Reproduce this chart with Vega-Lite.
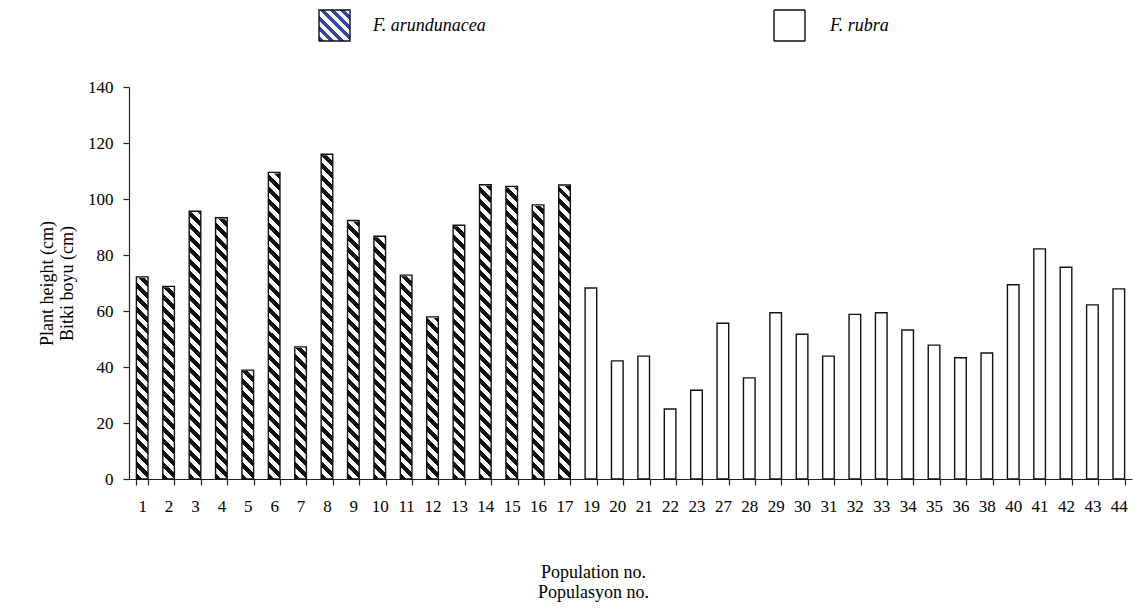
{
  "$schema": "https://vega.github.io/schema/vega-lite/v6.json",
  "autosize": {"type": "none"},
  "padding": {"left": 129, "top": 87, "right": 3, "bottom": 130},
  "width": 1003,
  "height": 392,
  "background": "white",
  "config": {
    "view": {"stroke": null},
    "font": "Liberation Serif",
    "legend": {"labelFont": "Liberation Serif", "labelFontStyle": "italic"},
    "axis": {
      "labelFont": "Liberation Serif",
      "titleFont": "Liberation Serif",
      "labelColor": "#000",
      "titleColor": "#000",
      "domainColor": "#222",
      "tickColor": "#222",
      "grid": false,
      "titleFontWeight": "normal"
    }
  },
  "data": {
    "values": [
      {"species": "F. arundunacea", "pop": "1", "value": 72.2},
      {"species": "F. arundunacea", "pop": "2", "value": 68.8},
      {"species": "F. arundunacea", "pop": "3", "value": 95.6},
      {"species": "F. arundunacea", "pop": "4", "value": 93.3},
      {"species": "F. arundunacea", "pop": "5", "value": 38.9},
      {"species": "F. arundunacea", "pop": "6", "value": 109.5},
      {"species": "F. arundunacea", "pop": "7", "value": 47.2},
      {"species": "F. arundunacea", "pop": "8", "value": 116.0},
      {"species": "F. arundunacea", "pop": "9", "value": 92.3},
      {"species": "F. arundunacea", "pop": "10", "value": 86.7},
      {"species": "F. arundunacea", "pop": "11", "value": 72.8},
      {"species": "F. arundunacea", "pop": "12", "value": 57.9},
      {"species": "F. arundunacea", "pop": "13", "value": 90.6},
      {"species": "F. arundunacea", "pop": "14", "value": 105.1},
      {"species": "F. arundunacea", "pop": "15", "value": 104.5},
      {"species": "F. arundunacea", "pop": "16", "value": 97.9},
      {"species": "F. arundunacea", "pop": "17", "value": 105.0},
      {"species": "F. rubra", "pop": "19", "value": 68.2},
      {"species": "F. rubra", "pop": "20", "value": 42.2},
      {"species": "F. rubra", "pop": "21", "value": 43.9},
      {"species": "F. rubra", "pop": "22", "value": 25.0},
      {"species": "F. rubra", "pop": "23", "value": 31.7},
      {"species": "F. rubra", "pop": "27", "value": 55.6},
      {"species": "F. rubra", "pop": "28", "value": 36.1},
      {"species": "F. rubra", "pop": "29", "value": 59.4},
      {"species": "F. rubra", "pop": "30", "value": 51.7},
      {"species": "F. rubra", "pop": "31", "value": 43.9},
      {"species": "F. rubra", "pop": "32", "value": 58.8},
      {"species": "F. rubra", "pop": "33", "value": 59.4},
      {"species": "F. rubra", "pop": "34", "value": 53.2},
      {"species": "F. rubra", "pop": "35", "value": 47.8},
      {"species": "F. rubra", "pop": "36", "value": 43.3},
      {"species": "F. rubra", "pop": "38", "value": 45.0},
      {"species": "F. rubra", "pop": "40", "value": 69.4},
      {"species": "F. rubra", "pop": "41", "value": 82.2},
      {"species": "F. rubra", "pop": "42", "value": 75.6},
      {"species": "F. rubra", "pop": "43", "value": 62.2},
      {"species": "F. rubra", "pop": "44", "value": 67.9}
    ]
  },
  "encoding": {
    "x": {
      "field": "pop",
      "type": "nominal",
      "scale": {
        "domain": ["1","2","3","4","5","6","7","8","9","10","11","12","13","14","15","16","17","19","20","21","22","23","27","28","29","30","31","32","33","34","35","36","38","40","41","42","43","44"],
        "paddingInner": 0.56,
        "paddingOuter": 0.28
      },
      "axis": {
        "title": ["Population no.", "Populasyon no."],
        "titleFont": "Liberation Serif",
        "titleFontSize": 18,
        "titleX": 464,
        "titleY": 98,
        "titleBaseline": "alphabetic",
        "titleAlign": "center",
        "titleLineHeight": 20,
        "labelFont": "Liberation Serif",
        "labelAngle": 0,
        "labelFontSize": 17,
        "labelPadding": 13,
        "tickSize": 6,
        "tickBand": "extent",
        "domainWidth": 1.2,
        "tickWidth": 1.2
      }
    },
    "y": {
      "field": "value",
      "type": "quantitative",
      "scale": {"domain": [0, 140], "nice": false},
      "axis": {
        "values": [0, 20, 40, 60, 80, 100, 120, 140],
        "title": ["Plant height (cm)", "Bitki boyu (cm)"],
        "titleFont": "Liberation Serif",
        "titleFontSize": 18,
        "titleAngle": 270,
        "titleX": -77,
        "titleY": 196,
        "titleBaseline": "alphabetic",
        "titleAlign": "center",
        "titleLineHeight": 20,
        "labelFont": "Liberation Serif",
        "labelFontSize": 17,
        "labelPadding": 10,
        "tickSize": 6,
        "domainWidth": 1.2,
        "tickWidth": 1.2
      }
    }
  },
  "layer": [
    {
      "transform": [{"filter": "datum.species === 'F. arundunacea'"}],
      "mark": {
        "type": "bar",
        "strokeWidth": 0,
        "fill": {
          "gradient": "linear",
          "x1": 0, "y1": 1, "x2": 0.03072, "y2": -0.03736,
          "stops": [
            {"offset": 0, "color": "#111"}, {"offset": 0.01471, "color": "#111"}, {"offset": 0.01471, "color": "#fff"}, {"offset": 0.02941, "color": "#fff"},
            {"offset": 0.02941, "color": "#111"}, {"offset": 0.04412, "color": "#111"}, {"offset": 0.04412, "color": "#fff"}, {"offset": 0.05882, "color": "#fff"},
            {"offset": 0.05882, "color": "#111"}, {"offset": 0.07353, "color": "#111"}, {"offset": 0.07353, "color": "#fff"}, {"offset": 0.08824, "color": "#fff"},
            {"offset": 0.08824, "color": "#111"}, {"offset": 0.10294, "color": "#111"}, {"offset": 0.10294, "color": "#fff"}, {"offset": 0.11765, "color": "#fff"},
            {"offset": 0.11765, "color": "#111"}, {"offset": 0.13235, "color": "#111"}, {"offset": 0.13235, "color": "#fff"}, {"offset": 0.14706, "color": "#fff"},
            {"offset": 0.14706, "color": "#111"}, {"offset": 0.16176, "color": "#111"}, {"offset": 0.16176, "color": "#fff"}, {"offset": 0.17647, "color": "#fff"},
            {"offset": 0.17647, "color": "#111"}, {"offset": 0.19118, "color": "#111"}, {"offset": 0.19118, "color": "#fff"}, {"offset": 0.20588, "color": "#fff"},
            {"offset": 0.20588, "color": "#111"}, {"offset": 0.22059, "color": "#111"}, {"offset": 0.22059, "color": "#fff"}, {"offset": 0.23529, "color": "#fff"},
            {"offset": 0.23529, "color": "#111"}, {"offset": 0.25, "color": "#111"}, {"offset": 0.25, "color": "#fff"}, {"offset": 0.26471, "color": "#fff"},
            {"offset": 0.26471, "color": "#111"}, {"offset": 0.27941, "color": "#111"}, {"offset": 0.27941, "color": "#fff"}, {"offset": 0.29412, "color": "#fff"},
            {"offset": 0.29412, "color": "#111"}, {"offset": 0.30882, "color": "#111"}, {"offset": 0.30882, "color": "#fff"}, {"offset": 0.32353, "color": "#fff"},
            {"offset": 0.32353, "color": "#111"}, {"offset": 0.33824, "color": "#111"}, {"offset": 0.33824, "color": "#fff"}, {"offset": 0.35294, "color": "#fff"},
            {"offset": 0.35294, "color": "#111"}, {"offset": 0.36765, "color": "#111"}, {"offset": 0.36765, "color": "#fff"}, {"offset": 0.38235, "color": "#fff"},
            {"offset": 0.38235, "color": "#111"}, {"offset": 0.39706, "color": "#111"}, {"offset": 0.39706, "color": "#fff"}, {"offset": 0.41176, "color": "#fff"},
            {"offset": 0.41176, "color": "#111"}, {"offset": 0.42647, "color": "#111"}, {"offset": 0.42647, "color": "#fff"}, {"offset": 0.44118, "color": "#fff"},
            {"offset": 0.44118, "color": "#111"}, {"offset": 0.45588, "color": "#111"}, {"offset": 0.45588, "color": "#fff"}, {"offset": 0.47059, "color": "#fff"},
            {"offset": 0.47059, "color": "#111"}, {"offset": 0.48529, "color": "#111"}, {"offset": 0.48529, "color": "#fff"}, {"offset": 0.5, "color": "#fff"},
            {"offset": 0.5, "color": "#111"}, {"offset": 0.51471, "color": "#111"}, {"offset": 0.51471, "color": "#fff"}, {"offset": 0.52941, "color": "#fff"},
            {"offset": 0.52941, "color": "#111"}, {"offset": 0.54412, "color": "#111"}, {"offset": 0.54412, "color": "#fff"}, {"offset": 0.55882, "color": "#fff"},
            {"offset": 0.55882, "color": "#111"}, {"offset": 0.57353, "color": "#111"}, {"offset": 0.57353, "color": "#fff"}, {"offset": 0.58824, "color": "#fff"},
            {"offset": 0.58824, "color": "#111"}, {"offset": 0.60294, "color": "#111"}, {"offset": 0.60294, "color": "#fff"}, {"offset": 0.61765, "color": "#fff"},
            {"offset": 0.61765, "color": "#111"}, {"offset": 0.63235, "color": "#111"}, {"offset": 0.63235, "color": "#fff"}, {"offset": 0.64706, "color": "#fff"},
            {"offset": 0.64706, "color": "#111"}, {"offset": 0.66176, "color": "#111"}, {"offset": 0.66176, "color": "#fff"}, {"offset": 0.67647, "color": "#fff"},
            {"offset": 0.67647, "color": "#111"}, {"offset": 0.69118, "color": "#111"}, {"offset": 0.69118, "color": "#fff"}, {"offset": 0.70588, "color": "#fff"},
            {"offset": 0.70588, "color": "#111"}, {"offset": 0.72059, "color": "#111"}, {"offset": 0.72059, "color": "#fff"}, {"offset": 0.73529, "color": "#fff"},
            {"offset": 0.73529, "color": "#111"}, {"offset": 0.75, "color": "#111"}, {"offset": 0.75, "color": "#fff"}, {"offset": 0.76471, "color": "#fff"},
            {"offset": 0.76471, "color": "#111"}, {"offset": 0.77941, "color": "#111"}, {"offset": 0.77941, "color": "#fff"}, {"offset": 0.79412, "color": "#fff"},
            {"offset": 0.79412, "color": "#111"}, {"offset": 0.80882, "color": "#111"}, {"offset": 0.80882, "color": "#fff"}, {"offset": 0.82353, "color": "#fff"},
            {"offset": 0.82353, "color": "#111"}, {"offset": 0.83824, "color": "#111"}, {"offset": 0.83824, "color": "#fff"}, {"offset": 0.85294, "color": "#fff"},
            {"offset": 0.85294, "color": "#111"}, {"offset": 0.86765, "color": "#111"}, {"offset": 0.86765, "color": "#fff"}, {"offset": 0.88235, "color": "#fff"},
            {"offset": 0.88235, "color": "#111"}, {"offset": 0.89706, "color": "#111"}, {"offset": 0.89706, "color": "#fff"}, {"offset": 0.91176, "color": "#fff"},
            {"offset": 0.91176, "color": "#111"}, {"offset": 0.92647, "color": "#111"}, {"offset": 0.92647, "color": "#fff"}, {"offset": 0.94118, "color": "#fff"},
            {"offset": 0.94118, "color": "#111"}, {"offset": 0.95588, "color": "#111"}, {"offset": 0.95588, "color": "#fff"}, {"offset": 0.97059, "color": "#fff"},
            {"offset": 0.97059, "color": "#111"}, {"offset": 0.98529, "color": "#111"}, {"offset": 0.98529, "color": "#fff"}, {"offset": 1, "color": "#fff"}
          ]
        }
      },
      "encoding": {
        "y": {"datum": 140, "type": "quantitative"},
        "y2": {"datum": 0}
      }
    },
    {
      "transform": [{"filter": "datum.species === 'F. arundunacea'"}],
      "mark": {"type": "bar", "fill": "white", "stroke": "white", "strokeWidth": 2},
      "encoding": {
        "y2": {"datum": 140}
      }
    },
    {
      "transform": [{"filter": "datum.species === 'F. arundunacea'"}],
      "mark": {
        "type": "bar",
        "strokeWidth": 1.4,
        "fill": {
          "gradient": "linear",
          "x1": 0, "y1": 1, "x2": 1, "y2": 0,
          "stops": [
            {"offset": 0, "color": "#3347a8"}, {"offset": 0.08333, "color": "#3347a8"}, {"offset": 0.08333, "color": "#fff"}, {"offset": 0.16667, "color": "#fff"},
            {"offset": 0.16667, "color": "#3347a8"}, {"offset": 0.25, "color": "#3347a8"}, {"offset": 0.25, "color": "#fff"}, {"offset": 0.33333, "color": "#fff"},
            {"offset": 0.33333, "color": "#3347a8"}, {"offset": 0.41667, "color": "#3347a8"}, {"offset": 0.41667, "color": "#fff"}, {"offset": 0.5, "color": "#fff"},
            {"offset": 0.5, "color": "#3347a8"}, {"offset": 0.58333, "color": "#3347a8"}, {"offset": 0.58333, "color": "#fff"}, {"offset": 0.66667, "color": "#fff"},
            {"offset": 0.66667, "color": "#3347a8"}, {"offset": 0.75, "color": "#3347a8"}, {"offset": 0.75, "color": "#fff"}, {"offset": 0.83333, "color": "#fff"},
            {"offset": 0.83333, "color": "#3347a8"}, {"offset": 0.91667, "color": "#3347a8"}, {"offset": 0.91667, "color": "#fff"}, {"offset": 1, "color": "#fff"}
          ]
        }
      },
      "encoding": {
        "fillOpacity": {"value": 0},
        "stroke": {
          "field": "species",
          "type": "nominal",
          "scale": {"range": ["#111"]},
          "legend": {
            "title": null,
            "orient": "none",
            "legendX": 189,
            "legendY": -78,
            "padding": 0,
            "symbolType": "square",
            "symbolSize": 961,
            "symbolStrokeWidth": 1.4,
            "labelFont": "Liberation Serif",
            "labelFontSize": 18,
            "labelFontStyle": "italic",
            "labelColor": "#000",
            "labelOffset": 22,
            "labelLimit": 300
          }
        }
      }
    },
    {
      "transform": [{"filter": "datum.species === 'F. rubra'"}],
      "mark": {"type": "bar", "fill": "white", "stroke": "#111", "strokeWidth": 1.4},
      "encoding": {
        "strokeDash": {
          "field": "species",
          "type": "nominal",
          "scale": {"range": [[1, 0]]},
          "legend": {
            "title": null,
            "orient": "none",
            "legendX": 644,
            "legendY": -78,
            "padding": 0,
            "symbolType": "square",
            "symbolSize": 961,
            "symbolStrokeWidth": 1.4,
            "labelFont": "Liberation Serif",
            "labelFontSize": 18,
            "labelFontStyle": "italic",
            "labelColor": "#000",
            "labelOffset": 24,
            "labelLimit": 300
          }
        }
      }
    }
  ]
}
